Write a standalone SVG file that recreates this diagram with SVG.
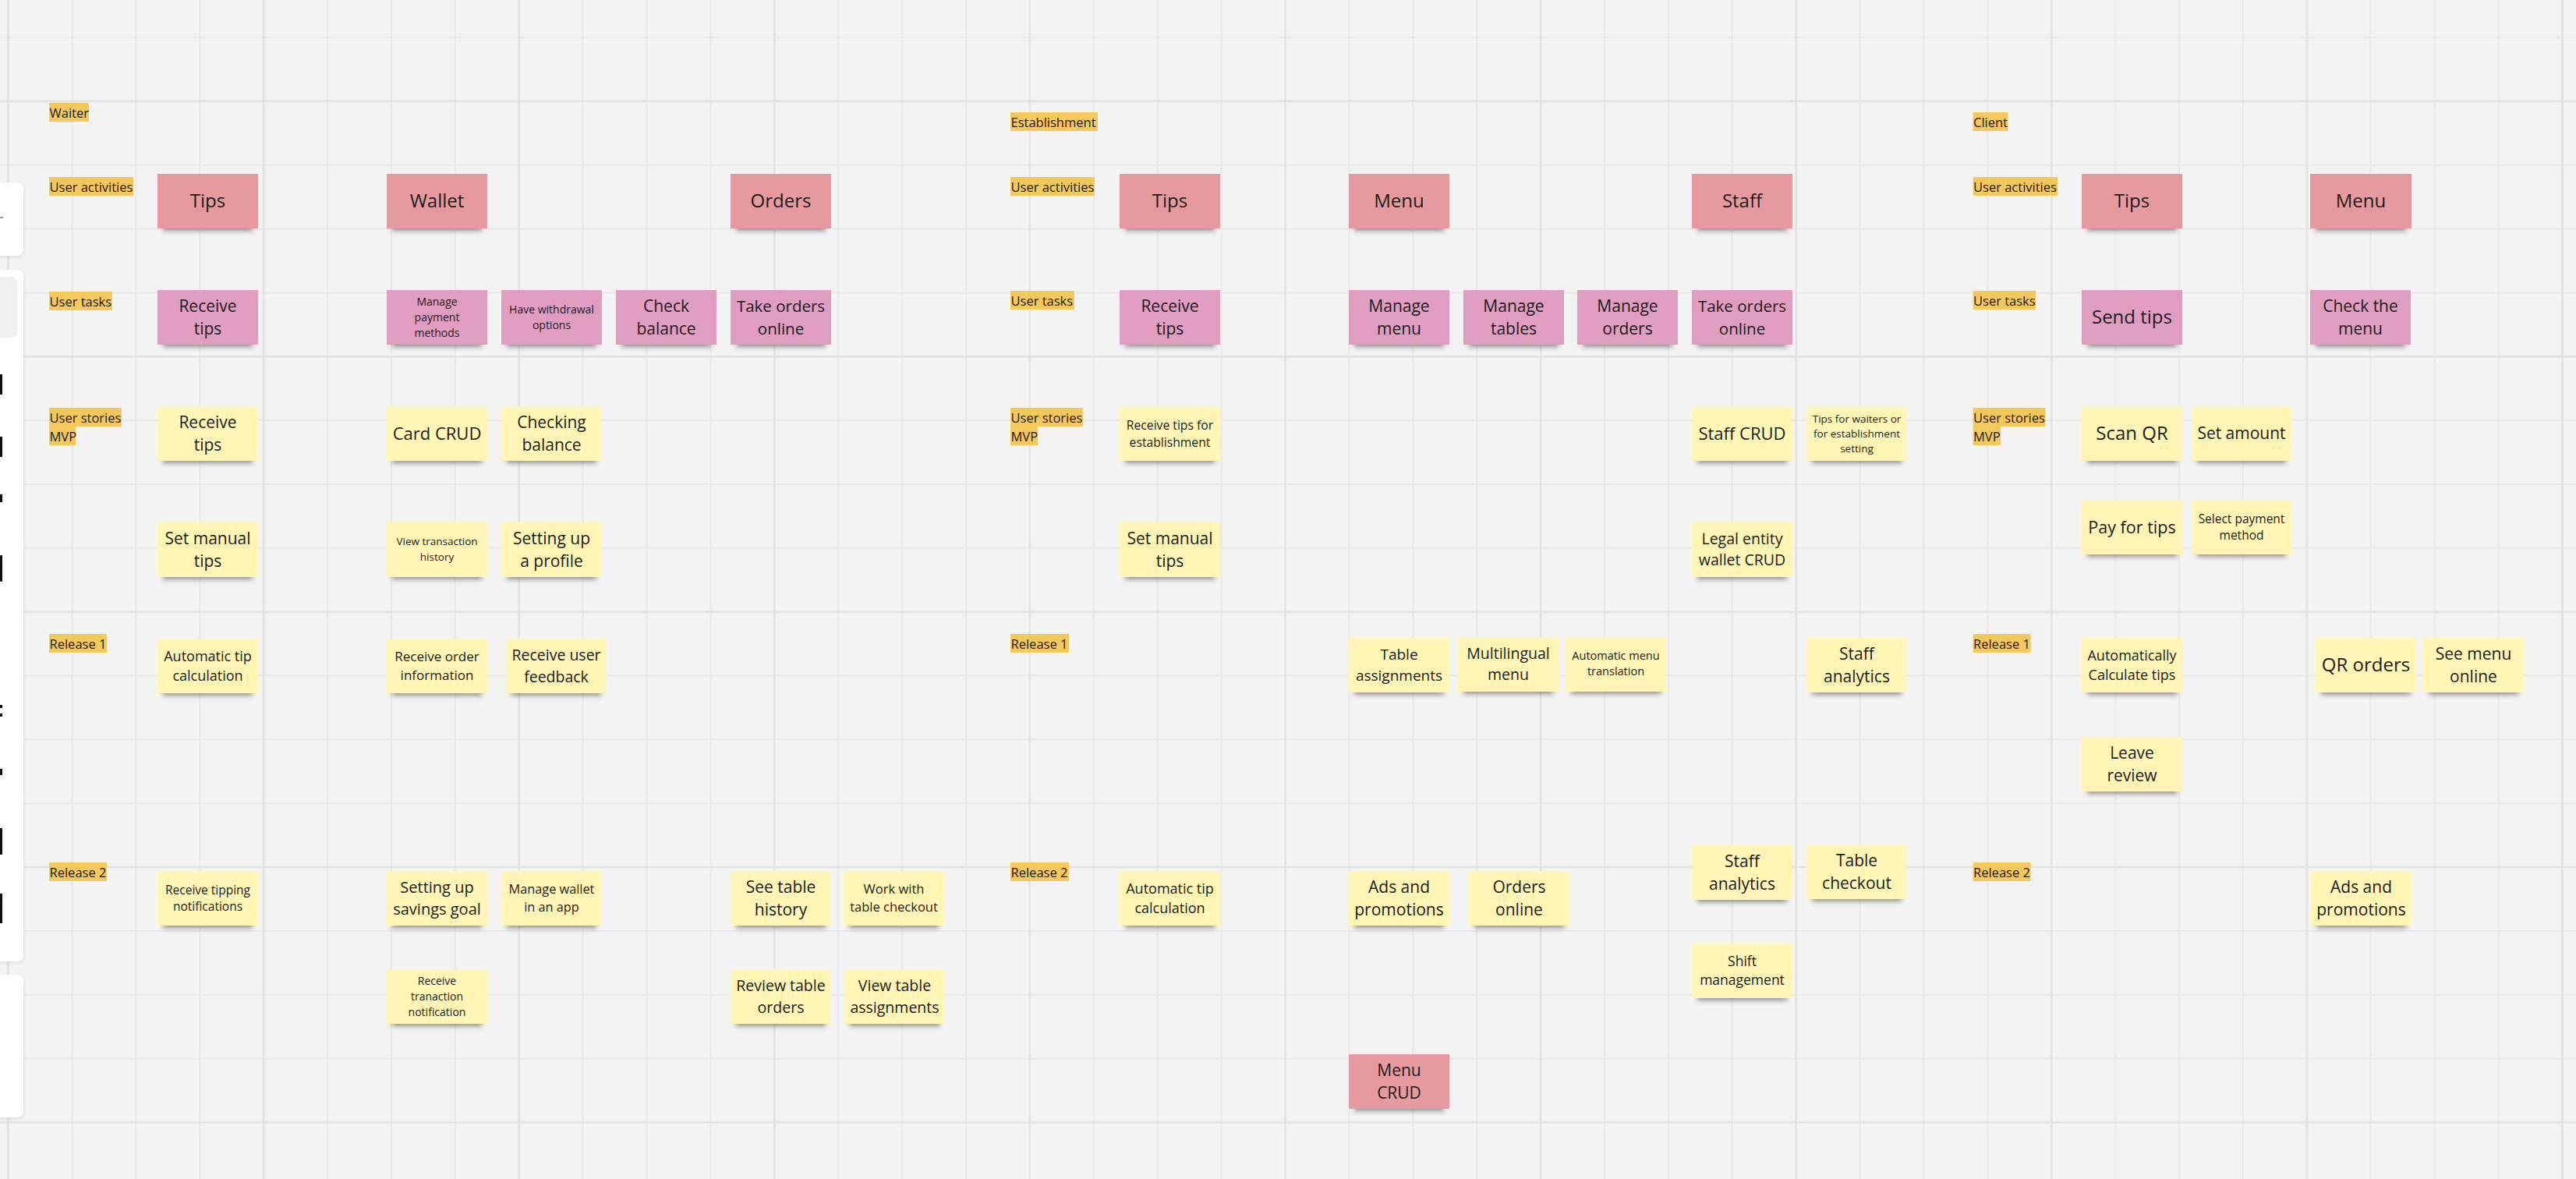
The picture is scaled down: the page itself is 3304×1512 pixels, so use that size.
<svg xmlns="http://www.w3.org/2000/svg" width="3304" height="1512" viewBox="0 0 3304 1512">
<defs>
<filter id="blur" x="-20%" y="-150%" width="140%" height="400%"><feGaussianBlur stdDeviation="3"/></filter>
<filter id="pshadow" x="-50%" y="-10%" width="200%" height="120%"><feGaussianBlur stdDeviation="2"/></filter>
</defs>
<style>
.bg{fill:#f2f3f2}
.gmin{stroke:#e7e8e7;stroke-width:2;fill:none}
.gmaj{stroke:#e1e2e1;stroke-width:2.5;fill:none}
.act{fill:#e6999e}
.task{fill:#e09dc0}
.story{fill:#fff6b6}
.sd{fill:#333;opacity:.5;filter:url(#blur)}
.lbl{fill:#f5c85c}
text{font-family:"Open Sans","Noto Sans","DejaVu Sans",sans-serif;fill:#1c1c1c}
g.note text{text-anchor:middle}
g.label text{font-size:16.5px}
.panel{fill:#ffffff}
.pshade{fill:#000;opacity:.08;filter:url(#pshadow)}
.mark{fill:#111}
</style>
<rect class="bg" x="0" y="0" width="3304" height="1512"/>
<g id="grid">
<path class="gmin" d="M92.4 0V1512M174.3 0V1512M256.2 0V1512M420 0V1512M501.9 0V1512M583.8 0V1512M747.6 0V1512M829.5 0V1512M911.4 0V1512M1075.2 0V1512M1157.1 0V1512M1239 0V1512M1402.8 0V1512M1484.7 0V1512M1566.6 0V1512M1730.4 0V1512M1812.3 0V1512M1894.2 0V1512M2058 0V1512M2139.9 0V1512M2221.8 0V1512M2385.6 0V1512M2467.5 0V1512M2549.4 0V1512M2713.2 0V1512M2795.1 0V1512M2877 0V1512M3040.8 0V1512M3122.7 0V1512M3204.6 0V1512M0 48H3304M0 211.7H3304M0 293.55H3304M0 375.4H3304M0 539.1H3304M0 620.95H3304M0 702.8H3304M0 866.5H3304M0 948.35H3304M0 1030.2H3304M0 1193.9H3304M0 1275.75H3304M0 1357.6H3304"/>
<path class="gmaj" d="M10.5 0V1512M338.1 0V1512M665.7 0V1512M993.3 0V1512M1320.9 0V1512M1648.5 0V1512M1976.1 0V1512M2303.7 0V1512M2631.3 0V1512M2958.9 0V1512M3286.5 0V1512M0 129.85H3304M0 457.25H3304M0 784.65H3304M0 1112.05H3304M0 1439.45H3304"/>
</g>

<g id="connectors"></g>

<!-- Row labels -->
<g id="labels-waiter" class="label">
<rect class="lbl" x="63" y="132" width="51" height="24"/><text x="63.5" y="150.5">Waiter</text>
<rect class="lbl" x="63" y="227" width="108" height="24"/><text x="63.5" y="245.5">User activities</text>
<rect class="lbl" x="63" y="374" width="81" height="24"/><text x="63.5" y="392.5">User tasks</text>
<rect class="lbl" x="63" y="523" width="93" height="24"/><rect class="lbl" x="63" y="547" width="34" height="24"/><text x="63.5" y="541.5">User stories</text><text x="63.5" y="565.5">MVP</text>
<rect class="lbl" x="63" y="813" width="74" height="24"/><text x="63.5" y="831.5">Release 1</text>
<rect class="lbl" x="63" y="1106" width="74" height="24"/><text x="63.5" y="1124.5">Release 2</text>
</g>
<g id="labels-establishment" class="label">
<rect class="lbl" x="1296" y="144" width="112" height="24"/><text x="1296.5" y="162.5">Establishment</text>
<rect class="lbl" x="1296" y="227" width="108" height="24"/><text x="1296.5" y="245.5">User activities</text>
<rect class="lbl" x="1296" y="373" width="82" height="24"/><text x="1296.5" y="391.5">User tasks</text>
<rect class="lbl" x="1296" y="523" width="93" height="24"/><rect class="lbl" x="1296" y="547" width="35" height="24"/><text x="1296.5" y="541.5">User stories</text><text x="1296.5" y="565.5">MVP</text>
<rect class="lbl" x="1296" y="813" width="75" height="24"/><text x="1296.5" y="831.5">Release 1</text>
<rect class="lbl" x="1296" y="1106" width="75" height="24"/><text x="1296.5" y="1124.5">Release 2</text>
</g>
<g id="labels-client" class="label">
<rect class="lbl" x="2530.6" y="144" width="45" height="24"/><text x="2531" y="162.5">Client</text>
<rect class="lbl" x="2530.6" y="227" width="108.4" height="24"/><text x="2531" y="245.5">User activities</text>
<rect class="lbl" x="2530.6" y="373" width="80.4" height="24"/><text x="2531" y="391.5">User tasks</text>
<rect class="lbl" x="2530.6" y="523" width="93" height="24"/><rect class="lbl" x="2530.6" y="547" width="35.4" height="24"/><text x="2531" y="541.5">User stories</text><text x="2531" y="565.5">MVP</text>
<rect class="lbl" x="2530.6" y="813" width="74" height="24"/><text x="2531" y="831.5">Release 1</text>
<rect class="lbl" x="2530.6" y="1106" width="74" height="24"/><text x="2531" y="1124.5">Release 2</text>
</g>

<!-- Waiter notes -->
<g id="w-tips" class="note"><rect class="sd" x="209" y="284" width="115" height="12"/><rect class="act" x="202" y="223" width="129" height="70"/><text x="266.5" y="266.4" font-size="24">Tips</text></g>
<g id="w-wallet" class="note"><rect class="sd" x="503" y="284" width="115" height="12"/><rect class="act" x="496" y="223" width="129" height="70"/><text x="560.5" y="266.4" font-size="24">Wallet</text></g>
<g id="w-orders" class="note"><rect class="sd" x="944" y="284" width="115" height="12"/><rect class="act" x="937" y="223" width="129" height="70"/><text x="1001.5" y="266.4" font-size="24">Orders</text></g>

<g id="w-receive-tips-task" class="note"><rect class="sd" x="209" y="433" width="115" height="12"/><rect class="task" x="202" y="372" width="129" height="70"/><text font-size="21"><tspan x="266.5" y="399.65">Receive</tspan><tspan x="266.5" y="429.05">tips</tspan></text></g>
<g id="w-manage-payment" class="note"><rect class="sd" x="503" y="433" width="115" height="12"/><rect class="task" x="496" y="372" width="129" height="70"/><text font-size="14"><tspan x="560.5" y="392.3">Manage</tspan><tspan x="560.5" y="411.9">payment</tspan><tspan x="560.5" y="431.5">methods</tspan></text></g>
<g id="w-withdrawal" class="note"><rect class="sd" x="650" y="433" width="115" height="12"/><rect class="task" x="643" y="372" width="129" height="70"/><text font-size="14"><tspan x="707.5" y="402.1">Have withdrawal</tspan><tspan x="707.5" y="421.7">options</tspan></text></g>
<g id="w-check-balance" class="note"><rect class="sd" x="797" y="433" width="115" height="12"/><rect class="task" x="790" y="372" width="129" height="70"/><text font-size="21"><tspan x="854.5" y="399.65">Check</tspan><tspan x="854.5" y="429.05">balance</tspan></text></g>
<g id="w-take-orders" class="note"><rect class="sd" x="944" y="433" width="115" height="12"/><rect class="task" x="937" y="372" width="129" height="70"/><text font-size="20.5"><tspan x="1001.5" y="399.8">Take orders</tspan><tspan x="1001.5" y="428.5">online</tspan></text></g>

<g id="w-receive-tips" class="note"><rect class="sd" x="209" y="582" width="115" height="12"/><rect class="story" x="202" y="521" width="129" height="70"/><text font-size="21"><tspan x="266.5" y="548.65">Receive</tspan><tspan x="266.5" y="578.05">tips</tspan></text></g>
<g id="w-card-crud" class="note"><rect class="sd" x="503" y="582" width="115" height="12"/><rect class="story" x="496" y="521" width="129" height="70"/><text x="560.5" y="563.7" font-size="22">Card CRUD</text></g>
<g id="w-checking-balance" class="note"><rect class="sd" x="650" y="582" width="115" height="12"/><rect class="story" x="643" y="521" width="129" height="70"/><text font-size="21"><tspan x="707.5" y="548.65">Checking</tspan><tspan x="707.5" y="578.05">balance</tspan></text></g>

<g id="w-set-manual" class="note"><rect class="sd" x="209" y="731" width="115" height="12"/><rect class="story" x="202" y="670" width="129" height="70"/><text font-size="21"><tspan x="266.5" y="697.65">Set manual</tspan><tspan x="266.5" y="727.05">tips</tspan></text></g>
<g id="w-view-history" class="note"><rect class="sd" x="503" y="731" width="115" height="12"/><rect class="story" x="496" y="670" width="129" height="70"/><text font-size="13.5"><tspan x="560.5" y="699">View transaction</tspan><tspan x="560.5" y="719">history</tspan></text></g>
<g id="w-profile" class="note"><rect class="sd" x="650" y="731" width="115" height="12"/><rect class="story" x="643" y="670" width="129" height="70"/><text font-size="21"><tspan x="707.5" y="697.65">Setting up</tspan><tspan x="707.5" y="727.05">a profile</tspan></text></g>

<g id="w-auto-tip" class="note"><rect class="sd" x="209" y="880" width="115" height="12"/><rect class="story" x="202" y="819" width="129" height="70"/><text font-size="18"><tspan x="266.5" y="847.7">Automatic tip</tspan><tspan x="266.5" y="872.9">calculation</tspan></text></g>
<g id="w-order-info" class="note"><rect class="sd" x="503" y="880" width="115" height="12"/><rect class="story" x="496" y="819" width="129" height="70"/><text font-size="17"><tspan x="560.5" y="848">Receive order</tspan><tspan x="560.5" y="871.8">information</tspan></text></g>
<g id="w-user-feedback" class="note"><rect class="sd" x="656" y="880" width="115" height="12"/><rect class="story" x="649" y="819" width="129" height="70"/><text font-size="19.5"><tspan x="713.5" y="847.2">Receive user</tspan><tspan x="713.5" y="874.5">feedback</tspan></text></g>

<g id="w-tipping-notif" class="note"><rect class="sd" x="209" y="1178" width="115" height="12"/><rect class="story" x="202" y="1117" width="129" height="70"/><text font-size="15.5"><tspan x="266.5" y="1146.6">Receive tipping</tspan><tspan x="266.5" y="1168.3">notifications</tspan></text></g>
<g id="w-savings" class="note"><rect class="sd" x="503" y="1178" width="115" height="12"/><rect class="story" x="496" y="1117" width="129" height="70"/><text font-size="20"><tspan x="560.5" y="1145">Setting up</tspan><tspan x="560.5" y="1173">savings goal</tspan></text></g>
<g id="w-manage-wallet" class="note"><rect class="sd" x="650" y="1178" width="115" height="12"/><rect class="story" x="643" y="1117" width="129" height="70"/><text font-size="16.3"><tspan x="707.5" y="1146.3">Manage wallet</tspan><tspan x="707.5" y="1169.1">in an app</tspan></text></g>
<g id="w-table-history" class="note"><rect class="sd" x="944" y="1178" width="115" height="12"/><rect class="story" x="937" y="1117" width="129" height="70"/><text font-size="21"><tspan x="1001.5" y="1144.65">See table</tspan><tspan x="1001.5" y="1174.05">history</tspan></text></g>
<g id="w-table-checkout" class="note"><rect class="sd" x="1089" y="1178" width="115" height="12"/><rect class="story" x="1082" y="1117" width="129" height="70"/><text font-size="16.5"><tspan x="1146.5" y="1146.2">Work with</tspan><tspan x="1146.5" y="1169.3">table checkout</tspan></text></g>

<g id="w-tranaction-notif" class="note"><rect class="sd" x="503" y="1304" width="115" height="12"/><rect class="story" x="496" y="1243" width="129" height="70"/><text font-size="14"><tspan x="560.5" y="1263.3">Receive</tspan><tspan x="560.5" y="1282.9">tranaction</tspan><tspan x="560.5" y="1302.5">notification</tspan></text></g>
<g id="w-review-orders" class="note"><rect class="sd" x="944" y="1304" width="115" height="12"/><rect class="story" x="937" y="1243" width="129" height="70"/><text font-size="19.5"><tspan x="1001.5" y="1271.2">Review table</tspan><tspan x="1001.5" y="1298.5">orders</tspan></text></g>
<g id="w-view-assign" class="note"><rect class="sd" x="1090" y="1304" width="115" height="12"/><rect class="story" x="1083" y="1243" width="129" height="70"/><text font-size="19.5"><tspan x="1147.5" y="1271.2">View table</tspan><tspan x="1147.5" y="1298.5">assignments</tspan></text></g>

<!-- Establishment notes -->
<g id="e-tips" class="note"><rect class="sd" x="1443" y="284" width="115" height="12"/><rect class="act" x="1436" y="223" width="129" height="70"/><text x="1500.5" y="266.4" font-size="24">Tips</text></g>
<g id="e-menu" class="note"><rect class="sd" x="1737" y="284" width="115" height="12"/><rect class="act" x="1730" y="223" width="129" height="70"/><text x="1794.5" y="266.4" font-size="24">Menu</text></g>
<g id="e-staff" class="note"><rect class="sd" x="2177" y="284" width="115" height="12"/><rect class="act" x="2170" y="223" width="129" height="70"/><text x="2234.5" y="266.4" font-size="24">Staff</text></g>

<g id="e-receive-tips-task" class="note"><rect class="sd" x="1443" y="433" width="115" height="12"/><rect class="task" x="1436" y="372" width="129" height="70"/><text font-size="21"><tspan x="1500.5" y="399.65">Receive</tspan><tspan x="1500.5" y="429.05">tips</tspan></text></g>
<g id="e-manage-menu" class="note"><rect class="sd" x="1737" y="433" width="115" height="12"/><rect class="task" x="1730" y="372" width="129" height="70"/><text font-size="21"><tspan x="1794.5" y="399.65">Manage</tspan><tspan x="1794.5" y="429.05">menu</tspan></text></g>
<g id="e-manage-tables" class="note"><rect class="sd" x="1884" y="433" width="115" height="12"/><rect class="task" x="1877" y="372" width="129" height="70"/><text font-size="21"><tspan x="1941.5" y="399.65">Manage</tspan><tspan x="1941.5" y="429.05">tables</tspan></text></g>
<g id="e-manage-orders" class="note"><rect class="sd" x="2030" y="433" width="115" height="12"/><rect class="task" x="2023" y="372" width="129" height="70"/><text font-size="21"><tspan x="2087.5" y="399.65">Manage</tspan><tspan x="2087.5" y="429.05">orders</tspan></text></g>
<g id="e-take-orders" class="note"><rect class="sd" x="2177" y="433" width="115" height="12"/><rect class="task" x="2170" y="372" width="129" height="70"/><text font-size="20.5"><tspan x="2234.5" y="399.8">Take orders</tspan><tspan x="2234.5" y="428.5">online</tspan></text></g>

<g id="e-tips-establishment" class="note"><rect class="sd" x="1443" y="582" width="115" height="12"/><rect class="story" x="1436" y="521" width="129" height="70"/><text font-size="15.7"><tspan x="1500.5" y="550.5">Receive tips for</tspan><tspan x="1500.5" y="572.5">establishment</tspan></text></g>
<g id="e-staff-crud" class="note"><rect class="sd" x="2177" y="582" width="115" height="12"/><rect class="story" x="2170" y="521" width="129" height="70"/><text x="2234.5" y="563.7" font-size="22">Staff CRUD</text></g>
<g id="e-tips-setting" class="note"><rect class="sd" x="2324" y="582" width="115" height="12"/><rect class="story" x="2317" y="521" width="129" height="70"/><text font-size="13.5"><tspan x="2381.5" y="541.8">Tips for waiters or</tspan><tspan x="2381.5" y="560.7">for establishment</tspan><tspan x="2381.5" y="579.6">setting</tspan></text></g>

<g id="e-set-manual" class="note"><rect class="sd" x="1443" y="731" width="115" height="12"/><rect class="story" x="1436" y="670" width="129" height="70"/><text font-size="21"><tspan x="1500.5" y="697.65">Set manual</tspan><tspan x="1500.5" y="727.05">tips</tspan></text></g>
<g id="e-legal-wallet" class="note"><rect class="sd" x="2177" y="731" width="115" height="12"/><rect class="story" x="2170" y="670" width="129" height="70"/><text font-size="19.5"><tspan x="2234.5" y="698.15">Legal entity</tspan><tspan x="2234.5" y="725.45">wallet CRUD</tspan></text></g>

<g id="e-table-assign" class="note"><rect class="sd" x="1737" y="879" width="115" height="12"/><rect class="story" x="1730" y="818" width="129" height="70"/><text font-size="19"><tspan x="1794.5" y="846.35">Table</tspan><tspan x="1794.5" y="872.95">assignments</tspan></text></g>
<g id="e-multilingual" class="note"><rect class="sd" x="1877" y="878" width="115" height="12"/><rect class="story" x="1870" y="817" width="129" height="70"/><text font-size="19.5"><tspan x="1934.5" y="845.15">Multilingual</tspan><tspan x="1934.5" y="872.45">menu</tspan></text></g>
<g id="e-menu-translation" class="note"><rect class="sd" x="2015" y="878" width="115" height="12"/><rect class="story" x="2008" y="817" width="129" height="70"/><text font-size="14.5"><tspan x="2072.5" y="845.5">Automatic menu</tspan><tspan x="2072.5" y="865.5">translation</tspan></text></g>
<g id="e-staff-analytics-r1" class="note"><rect class="sd" x="2324" y="879" width="115" height="12"/><rect class="story" x="2317" y="818" width="129" height="70"/><text font-size="21"><tspan x="2381.5" y="845.65">Staff</tspan><tspan x="2381.5" y="875.05">analytics</tspan></text></g>

<g id="e-auto-tip" class="note"><rect class="sd" x="1443" y="1178" width="115" height="12"/><rect class="story" x="1436" y="1117" width="129" height="70"/><text font-size="18"><tspan x="1500.5" y="1145.7">Automatic tip</tspan><tspan x="1500.5" y="1170.9">calculation</tspan></text></g>
<g id="e-ads" class="note"><rect class="sd" x="1737" y="1178" width="115" height="12"/><rect class="story" x="1730" y="1117" width="129" height="70"/><text font-size="21"><tspan x="1794.5" y="1144.65">Ads and</tspan><tspan x="1794.5" y="1174.05">promotions</tspan></text></g>
<g id="e-orders-online" class="note"><rect class="sd" x="1891" y="1178" width="115" height="12"/><rect class="story" x="1884" y="1117" width="129" height="70"/><text font-size="21"><tspan x="1948.5" y="1144.65">Orders</tspan><tspan x="1948.5" y="1174.05">online</tspan></text></g>
<g id="e-staff-analytics-r2" class="note"><rect class="sd" x="2177" y="1145" width="115" height="12"/><rect class="story" x="2170" y="1084" width="129" height="70"/><text font-size="21"><tspan x="2234.5" y="1111.65">Staff</tspan><tspan x="2234.5" y="1141.05">analytics</tspan></text></g>
<g id="e-table-checkout" class="note"><rect class="sd" x="2324" y="1144" width="115" height="12"/><rect class="story" x="2317" y="1083" width="129" height="70"/><text font-size="21"><tspan x="2381.5" y="1110.65">Table</tspan><tspan x="2381.5" y="1140.05">checkout</tspan></text></g>
<g id="e-shift" class="note"><rect class="sd" x="2177" y="1271" width="115" height="12"/><rect class="story" x="2170" y="1210" width="129" height="70"/><text font-size="17.5"><tspan x="2234.5" y="1238.85">Shift</tspan><tspan x="2234.5" y="1263.35">management</tspan></text></g>
<g id="e-menu-crud" class="note"><rect class="sd" x="1737" y="1413" width="115" height="12"/><rect class="act" x="1730" y="1352" width="129" height="70"/><text font-size="21"><tspan x="1794.5" y="1379.65">Menu</tspan><tspan x="1794.5" y="1409.05">CRUD</tspan></text></g>

<!-- Client notes -->
<g id="c-tips" class="note"><rect class="sd" x="2677" y="284" width="115" height="12"/><rect class="act" x="2670" y="223" width="129" height="70"/><text x="2734.5" y="266.4" font-size="24">Tips</text></g>
<g id="c-menu" class="note"><rect class="sd" x="2970" y="284" width="116" height="12"/><rect class="act" x="2963" y="223" width="130" height="70"/><text x="3028" y="266.4" font-size="24">Menu</text></g>
<g id="c-send-tips" class="note"><rect class="sd" x="2677" y="433" width="115" height="12"/><rect class="task" x="2670" y="372" width="129" height="70"/><text x="2734.5" y="415.4" font-size="24">Send tips</text></g>
<g id="c-check-menu" class="note"><rect class="sd" x="2970" y="433" width="115" height="12"/><rect class="task" x="2963" y="372" width="129" height="70"/><text font-size="21"><tspan x="3027.5" y="399.65">Check the</tspan><tspan x="3027.5" y="429.05">menu</tspan></text></g>
<g id="c-scan-qr" class="note"><rect class="sd" x="2677" y="582" width="115" height="12"/><rect class="story" x="2670" y="521" width="129" height="70"/><text x="2734.5" y="564.4" font-size="24">Scan QR</text></g>
<g id="c-set-amount" class="note"><rect class="sd" x="2818" y="582" width="114" height="12"/><rect class="story" x="2811" y="521" width="128" height="70"/><text x="2875" y="563.35" font-size="21">Set amount</text></g>
<g id="c-pay-tips" class="note"><rect class="sd" x="2677" y="702" width="115" height="12"/><rect class="story" x="2670" y="641" width="129" height="70"/><text x="2734.5" y="683.5" font-size="21.5">Pay for tips</text></g>
<g id="c-payment-method" class="note"><rect class="sd" x="2818" y="702" width="114" height="12"/><rect class="story" x="2811" y="641" width="128" height="70"/><text font-size="15.5"><tspan x="2875" y="670.6">Select payment</tspan><tspan x="2875" y="692.3">method</tspan></text></g>
<g id="c-auto-calc" class="note"><rect class="sd" x="2677" y="879" width="115" height="12"/><rect class="story" x="2670" y="818" width="129" height="70"/><text font-size="18"><tspan x="2734.5" y="846.7">Automatically</tspan><tspan x="2734.5" y="871.9">Calculate tips</tspan></text></g>
<g id="c-qr-orders" class="note"><rect class="sd" x="2977" y="879" width="115" height="12"/><rect class="story" x="2970" y="818" width="129" height="70"/><text x="3034.5" y="861.4" font-size="24">QR orders</text></g>
<g id="c-menu-online" class="note"><rect class="sd" x="3115" y="879" width="115" height="12"/><rect class="story" x="3108" y="818" width="129" height="70"/><text font-size="21"><tspan x="3172.5" y="845.65">See menu</tspan><tspan x="3172.5" y="875.05">online</tspan></text></g>
<g id="c-leave-review" class="note"><rect class="sd" x="2677" y="1006" width="115" height="12"/><rect class="story" x="2670" y="945" width="129" height="70"/><text font-size="21"><tspan x="2734.5" y="972.65">Leave</tspan><tspan x="2734.5" y="1002.05">review</tspan></text></g>
<g id="c-ads" class="note"><rect class="sd" x="2971" y="1178" width="115" height="12"/><rect class="story" x="2964" y="1117" width="129" height="70"/><text font-size="21"><tspan x="3028.5" y="1144.65">Ads and</tspan><tspan x="3028.5" y="1174.05">promotions</tspan></text></g>

<!-- Left toolbar (cut-off UI panels) -->
<g id="toolbar">
<rect class="pshade" x="-12" y="235" width="43" height="95" rx="8"/>
<rect class="panel" x="-12" y="234" width="42" height="94" rx="8"/>
<rect x="0" y="278" width="4" height="2" fill="#999"/>
<rect class="pshade" x="-12" y="347" width="43" height="888" rx="8"/>
<rect class="panel" x="-12" y="346" width="42" height="887" rx="8"/>
<rect x="-12" y="355" width="34" height="78" rx="7" fill="#f0f0f1"/>
<rect class="mark" x="0" y="480" width="3" height="26"/>
<rect class="mark" x="0" y="560" width="3" height="26"/>
<rect class="mark" x="0" y="634" width="3" height="10"/>
<rect class="mark" x="0" y="712" width="3" height="34" rx="1"/>
<rect class="mark" x="0" y="904" width="3" height="4"/>
<rect class="mark" x="0" y="915" width="3" height="4"/>
<rect class="mark" x="0" y="986" width="3" height="8"/>
<rect class="mark" x="0" y="1062" width="3" height="34"/>
<rect class="mark" x="0" y="1146" width="3" height="38"/>
<rect class="pshade" x="-12" y="1251" width="43" height="184" rx="8"/>
<rect class="panel" x="-12" y="1250" width="42" height="183" rx="8"/>
</g>
</svg>
